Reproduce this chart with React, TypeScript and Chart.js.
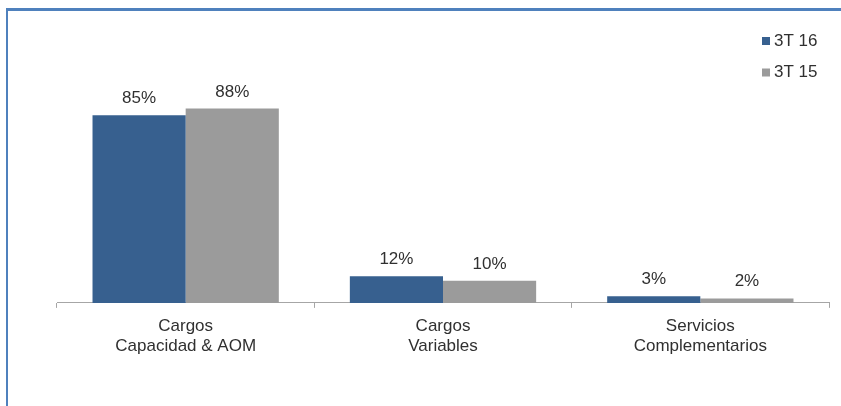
import React, { useEffect, useRef } from "react";
import { Chart, registerables } from "chart.js";

Chart.register(...registerables);

const categories: string[][] = [
  ["Cargos", "Capacidad & AOM"],
  ["Cargos", "Variables"],
  ["Servicios", "Complementarios"],
];
const seriesNames = ["3T 16", "3T 15"];
const values3T16 = [85, 12, 3];
const values3T15 = [88, 10, 2];
const seriesColors = ["#37608F", "#9B9B9B"];

const FONT = "'Liberation Sans', Arial, sans-serif";
const TEXT = "#303030";

// Percentage labels above every bar
const valueLabels = {
  id: "valueLabels",
  afterDatasetsDraw(chart: any) {
    const ctx = chart.ctx;
    ctx.save();
    ctx.font = `17px ${FONT}`;
    ctx.fillStyle = TEXT;
    ctx.textAlign = "center";
    ctx.textBaseline = "alphabetic";
    chart.data.datasets.forEach((ds: any, i: number) => {
      const meta = chart.getDatasetMeta(i);
      meta.data.forEach((el: any, j: number) => {
        ctx.fillText(`${ds.data[j]}%`, el.x, el.y - 12);
      });
    });
    ctx.restore();
  },
};

// Legend stacked in the upper right corner
const cornerLegend = {
  id: "cornerLegend",
  afterDraw(chart: any) {
    const ctx = chart.ctx;
    ctx.save();
    ctx.font = `17px ${FONT}`;
    ctx.textBaseline = "middle";
    ctx.textAlign = "left";
    chart.data.datasets.forEach((ds: any, i: number) => {
      const cy = 41 + i * 31.5;
      ctx.fillStyle = ds.backgroundColor;
      ctx.fillRect(762, cy - 4, 8, 8);
      ctx.fillStyle = TEXT;
      ctx.fillText(ds.label, 774, cy);
    });
    ctx.restore();
  },
};

export default function App() {
  const ref = useRef<HTMLCanvasElement | null>(null);

  useEffect(() => {
    if (!ref.current) return;
    const chart = new Chart(ref.current, {
      type: "bar",
      data: {
        labels: categories,
        datasets: [
          { label: seriesNames[0], data: values3T16, backgroundColor: seriesColors[0] },
          { label: seriesNames[1], data: values3T15, backgroundColor: seriesColors[1] },
        ],
      },
      options: {
        responsive: false,
        animation: false,
        devicePixelRatio: 1,
        layout: { padding: { left: 57, right: 12, top: 82, bottom: 42 } },
        datasets: {
          bar: { categoryPercentage: 0.724, barPercentage: 1 },
        },
        plugins: {
          legend: { display: false },
          tooltip: { enabled: false },
        },
        scales: {
          y: { display: false, min: 0, max: 100 },
          x: {
            offset: true,
            border: { display: true, color: "#A6A6A6", width: 1 },
            grid: {
              display: true,
              offset: true,
              drawOnChartArea: false,
              drawTicks: true,
              tickLength: 5,
              color: "#A6A6A6",
            },
            ticks: {
              color: TEXT,
              padding: 8,
              maxRotation: 0,
              autoSkip: false,
              font: { family: FONT, size: 17, lineHeight: 1.18 },
            },
          },
        },
      },
      plugins: [valueLabels, cornerLegend],
    });
    return () => chart.destroy();
  }, []);

  return (
    <div
      style={{
        position: "fixed",
        left: 0,
        top: 0,
        width: 841,
        height: 406,
        background: "#FFFFFF",
        overflow: "hidden",
      }}
    >
      <div
        style={{
          position: "absolute",
          left: 6,
          top: 8,
          right: 0,
          bottom: 0,
          borderLeft: "2px solid #4F81BD",
          borderTop: "3px solid #4F81BD",
        }}
      />
      <canvas
        ref={ref}
        width={841}
        height={406}
        style={{ position: "absolute", left: 0, top: 0, width: 841, height: 406 }}
      />
    </div>
  );
}
